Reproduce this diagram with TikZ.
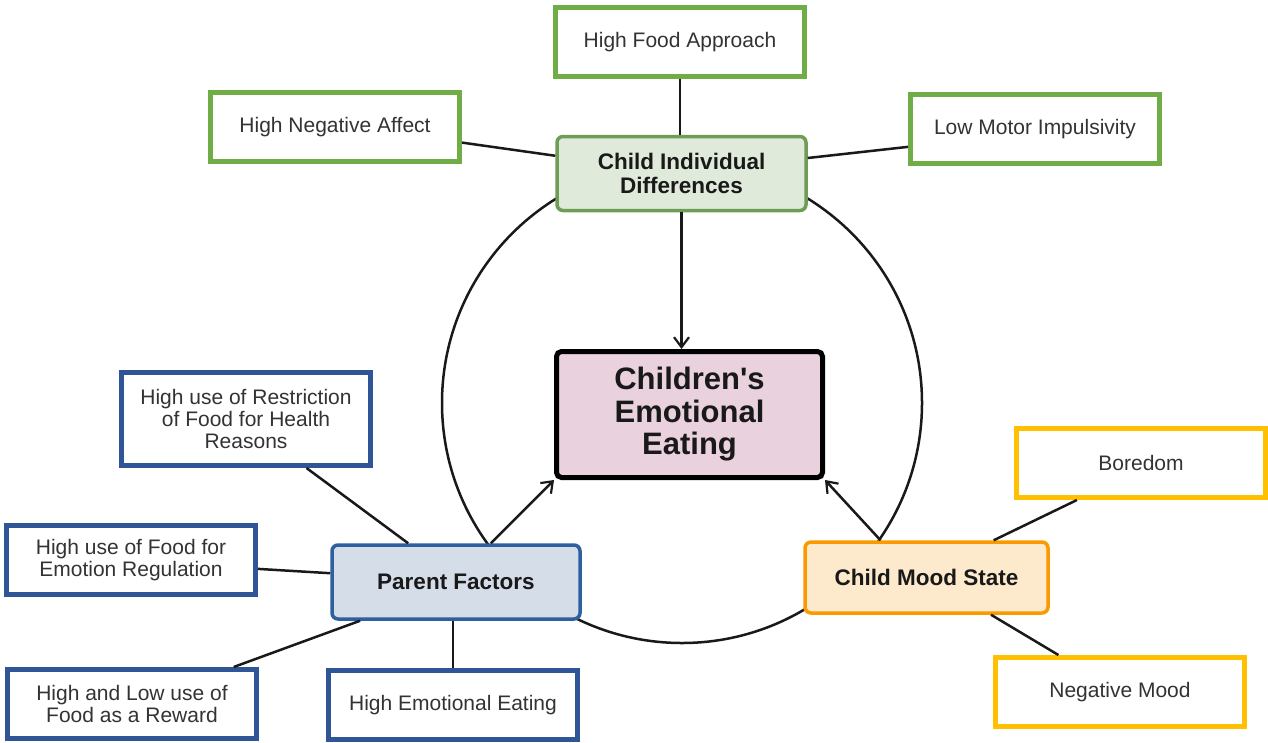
\documentclass[tikz,border=0pt]{standalone}
\usepackage{fontspec}
\setmainfont[Ligatures=TeXOff]{Liberation Sans}
\usetikzlibrary{arrows.meta}
\definecolor{gleaf}{HTML}{70AD47}
\definecolor{bleaf}{HTML}{2F5597}
\definecolor{yleaf}{HTML}{FFC000}
\definecolor{cifill}{HTML}{E0EADA}
\definecolor{ciline}{HTML}{6E9E55}
\definecolor{pffill}{HTML}{D5DDE9}
\definecolor{pfline}{HTML}{2E5F9E}
\definecolor{msfill}{HTML}{FDE9CB}
\definecolor{msline}{HTML}{F89A00}
\definecolor{eefill}{HTML}{E9D1DD}
\definecolor{leaftext}{HTML}{333333}
\tikzset{
  leaf/.style={draw, line width=5pt, fill=white, inner sep=0pt, align=center,
    minimum width=249pt, minimum height=69pt, text=leaftext,
    font=\fontsize{21}{21.7}\selectfont},
  hub/.style={draw, line width=3.5pt, rounded corners=6pt, inner sep=0pt, align=center,
    minimum width=249pt, minimum height=74pt, text=black!90,
    font=\fontsize{22.5}{24}\selectfont\bfseries},
  link/.style={draw, line width=2.5pt, black!90},
  arrowlink/.style={link, -{Straight Barb[length=10pt,width=15pt,line width=2.2pt]}},
}
\begin{document}
\begin{tikzpicture}[x=1pt,y=-1pt]
\useasboundingbox (0,0) rectangle (1268,742);
% ring behind the hubs
\coordinate (ring) at (682,403);
\draw[link] (ring) circle (240pt);

% hubs
\node[hub, fill=cifill, draw=ciline] (ci) at (681.5,173.5) {Child Individual\\Differences};
\node[draw, line width=5pt, rounded corners=5pt, fill=eefill, inner sep=0pt, align=center,
  minimum width=266pt, minimum height=126pt, font=\fontsize{31}{32.5}\selectfont\bfseries, text=black!90]
  (ee) at (689.5,414.5) {Children's\\Emotional\\Eating};
\node[hub, fill=pffill, draw=pfline, minimum width=248pt] (pf) at (456,582) {Parent Factors};
\node[hub, fill=msfill, draw=msline, minimum width=243pt, minimum height=71pt] (ms) at (926.5,577.5) {Child Mood State};

% leaves
\node[leaf, draw=gleaf] (hfa) at (680,42) {High Food Approach};
\node[leaf, draw=gleaf] (hna) at (335,127) {High Negative Affect};
\node[leaf, draw=gleaf] (lmi) at (1035,129) {Low Motor Impulsivity};
\node[leaf, draw=bleaf, minimum height=93pt] (res) at (246,419) {High use of Restriction\\of Food for Health\\Reasons};
\node[leaf, draw=bleaf] (reg) at (131,560) {High use of Food for\\Emotion Regulation};
\node[leaf, draw=bleaf] (rew) at (132,704) {High and Low use of\\Food as a Reward};
\node[leaf, draw=bleaf] (hee) at (453,705) {High Emotional Eating};
\node[leaf, draw=yleaf] (bor) at (1141,463) {Boredom};
\node[leaf, draw=yleaf] (neg) at (1120,692) {Negative Mood};

% connectors
\draw[link] (hfa.south) -- (hfa.south |- ci.north);
\draw[link] (hna.-7.1) -- (ci.172.6);
\draw[link] (lmi.-172.8) -- (ci.7.4);
\draw[arrowlink] (ci.south) -- (ci.south |- ee.north);
\draw[arrowlink] (pf.48.9) -- (ee.south west);
\draw[arrowlink] (ms.141.1) -- (ee.south east);
\draw[link] (res.-39.7) -- (pf.141);
\draw[link] (reg.-4.5) -- (pf.176.4);
\draw[link] (rew.20.7) -- (pf.-158.9);
\draw[link] (hee.north) -- (hee.north |- pf.south);
\draw[link] (bor.-150.7) -- (ms.29.4);
\draw[link] (neg.149) -- (ms.-30.6);
\end{tikzpicture}
\end{document}
